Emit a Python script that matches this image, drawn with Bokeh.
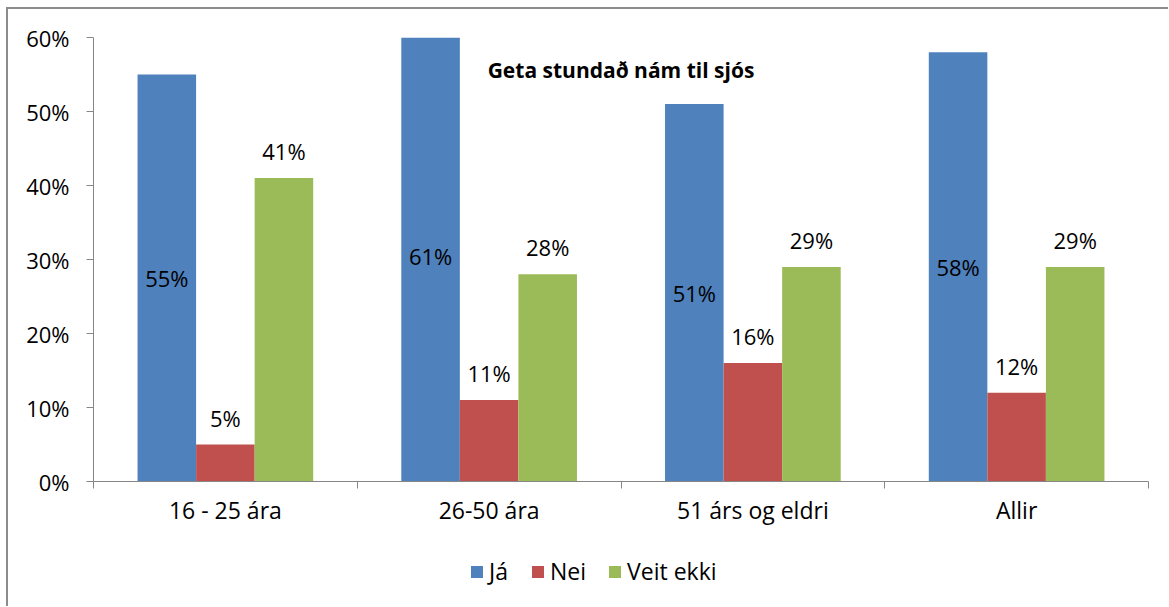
from bokeh.plotting import figure
from bokeh.layouts import column
from bokeh.models import (ColumnDataSource, Range1d, FixedTicker, PrintfTickFormatter,
                          Legend, LegendItem, Label, LabelSet)
from bokeh.core.properties import value
from bokeh.embed import file_html
from bokeh.resources import INLINE

categories = ["16 - 25 ára", "26-50 ára", "51 árs og eldri", "Allir"]
series_names = ["Já", "Nei", "Veit ekki"]
ja = [55, 61, 51, 58]
nei = [5, 11, 16, 12]
veit = [41, 28, 29, 29]
y_ticks = [0, 10, 20, 30, 40, 50, 60]

colors = ["#4F81BD", "#C0504D", "#9BBB59"]
FONT = "Open Sans"
AXIS_COLOR = "#868686"

p = figure(width=1160, height=540, output_backend="svg", toolbar_location=None,
           x_range=Range1d(0, len(categories)), y_range=Range1d(0, 60),
           min_border_left=85, min_border_top=28, min_border_right=20, min_border_bottom=68)
p.outline_line_color = None
p.xgrid.visible = False
p.ygrid.visible = False
p.background_fill_color = "white"
p.border_fill_color = "white"

bar_w = 0.222
offsets = [-bar_w, 0.0, bar_w]
for k, vals in enumerate([ja, nei, veit]):
    xs = [i + 0.5 + offsets[k] for i in range(len(categories))]
    src = ColumnDataSource(dict(x=xs, top=vals,
                                mid=[v / 2 for v in vals],
                                lab=[f"{v}%" for v in vals]))
    p.vbar(x="x", top="top", bottom=0, width=bar_w, source=src,
           fill_color=colors[k], line_color=None)
    if k == 0:
        ls = LabelSet(x="x", y="mid", text="lab", source=src, text_align="center",
                      text_baseline="middle", text_font=value(FONT), text_font_size="22px",
                      text_color="black")
    else:
        ls = LabelSet(x="x", y="top", text="lab", source=src, text_align="center",
                      text_baseline="bottom", y_offset=12, text_font=value(FONT),
                      text_font_size="22px", text_color="black")
    p.add_layout(ls)

# y axis
p.yaxis.ticker = FixedTicker(ticks=y_ticks)
p.yaxis.formatter = PrintfTickFormatter(format="%d%%")
p.yaxis.axis_line_color = AXIS_COLOR
p.yaxis.major_tick_line_color = AXIS_COLOR
p.yaxis.major_tick_out = 7
p.yaxis.major_tick_in = 0
p.yaxis.minor_tick_line_color = None
p.yaxis.major_label_text_font = FONT
p.yaxis.major_label_text_font_size = "22px"
p.yaxis.major_label_text_color = "black"
p.yaxis.major_label_standoff = 17

# x axis: labels at centers, ticks at boundaries
centers = [i + 0.5 for i in range(len(categories))]
p.xaxis.ticker = FixedTicker(ticks=centers, minor_ticks=list(range(len(categories) + 1)))
p.xaxis.major_label_overrides = {c: lab for c, lab in zip(centers, categories)}
p.xaxis.axis_line_color = AXIS_COLOR
p.xaxis.major_tick_line_color = None
p.xaxis.minor_tick_line_color = AXIS_COLOR
p.xaxis.minor_tick_out = 7
p.xaxis.minor_tick_in = 0
p.xaxis.major_label_text_font = FONT
p.xaxis.major_label_text_font_size = "23px"
p.xaxis.major_label_text_color = "black"
p.xaxis.major_label_standoff = 5

# title inside plot
p.add_layout(Label(x=len(categories) / 2, y=55.6, text="Geta stundað nám til sjós",
                   text_align="center", text_baseline="middle", text_font=FONT,
                   text_font_size="21px", text_font_style="bold", text_color="black"))

# legend strip (swatch renderers sit outside the strip's visible range)
lg = figure(width=1160, height=57, output_backend="svg", toolbar_location=None,
            x_axis_type=None, y_axis_type=None, x_range=Range1d(0, 1), y_range=Range1d(0, 1),
            min_border=0, min_border_left=0, min_border_right=0, min_border_top=0,
            min_border_bottom=0)
lg.outline_line_color = None
lg.xgrid.visible = False
lg.ygrid.visible = False
lg.border_fill_color = "white"
lg.background_fill_color = "white"
items = []
for name, c in zip(series_names, colors):
    r = lg.vbar(x=[-5], top=[-5], bottom=-6, width=0.1, fill_color=c, line_color=None)
    items.append(LegendItem(label=name, renderers=[r]))
legend = Legend(items=items, orientation="horizontal", location=(376, 19),
                label_text_font=FONT, label_text_font_size="23px", label_text_color="black",
                glyph_width=15, glyph_height=15, spacing=21, label_standoff=5,
                border_line_color=None, background_fill_alpha=0, margin=0, padding=0)
lg.add_layout(legend, "center")

layout = column(p, lg, spacing=0)
layout.styles = {"border-left": "2px solid #8c8c8c", "border-top": "2px solid #8c8c8c",
                 "position": "relative", "left": "6px", "top": "7px"}

open("out.html", "w").write(file_html(layout, INLINE))
